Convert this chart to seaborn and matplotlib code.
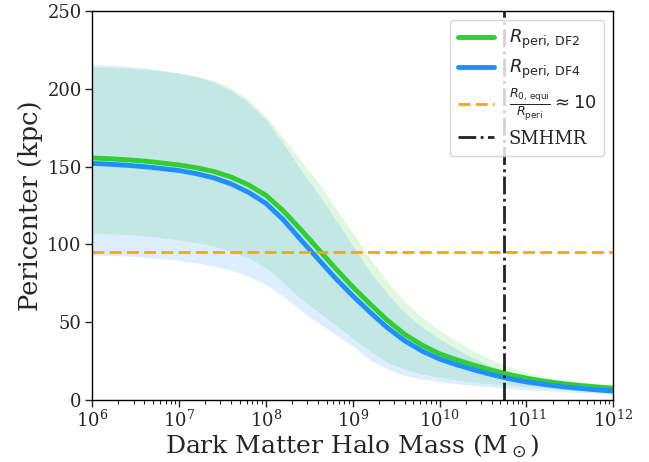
import numpy as np
import pandas as pd
import matplotlib
matplotlib.use("Agg")
import matplotlib.pyplot as plt
import seaborn as sns

# log10 halo mass grid (every 0.2 dex)
log_mass = [6.0, 6.2, 6.4, 6.6, 6.8, 7.0, 7.2, 7.4, 7.6, 7.8,
            8.0, 8.2, 8.4, 8.6, 8.8, 9.0, 9.2, 9.4, 9.6, 9.8,
            10.0, 10.2, 10.4, 10.6, 10.8, 11.0, 11.2, 11.4, 11.6, 11.8, 12.0]

r_df2 = [155.5, 155.0, 154.3, 153.5, 152.3, 151.0, 149.2, 146.8, 143.2, 138.2,
         131.5, 121.5, 109.5, 97.0, 84.5, 72.5, 61.5, 51.0, 42.0, 35.0,
         29.5, 25.6, 22.1, 19.0, 16.2, 13.8, 11.9, 10.4, 9.2, 8.2, 7.4]
r_df2_hi = [214.0, 213.8, 213.3, 212.5, 211.3, 210.0, 208.0, 205.3, 200.5, 193.0,
            182.0, 168.5, 154.0, 140.0, 123.5, 107.5, 90.5, 76.0, 63.0, 53.0,
            44.5, 37.5, 31.0, 25.5, 21.0, 17.5, 15.0, 13.0, 11.5, 10.3, 9.3]
r_df2_lo = [107.0, 106.7, 106.2, 105.4, 104.2, 102.8, 101.0, 98.8, 95.5, 91.0,
            85.0, 75.5, 65.0, 56.5, 48.0, 39.5, 31.0, 24.0, 19.5, 16.5,
            14.3, 12.7, 11.4, 10.3, 9.3, 8.4, 7.6, 6.9, 6.2, 5.6, 5.0]

r_df4 = [152.0, 151.5, 150.8, 149.9, 148.7, 147.4, 145.4, 142.7, 138.8, 133.4,
         126.3, 115.8, 103.0, 90.6, 78.2, 66.8, 56.2, 46.2, 37.8, 31.2,
         26.1, 22.4, 19.1, 16.1, 13.5, 11.4, 9.8, 8.4, 7.3, 6.3, 5.5]
r_df4_hi = [215.7, 215.2, 214.5, 213.5, 212.0, 210.2, 207.8, 204.5, 199.0, 191.0,
            180.0, 165.0, 148.0, 132.5, 116.0, 99.0, 82.0, 68.0, 56.0, 46.5,
            39.0, 32.5, 26.5, 21.5, 17.5, 14.5, 12.3, 10.7, 9.5, 8.6, 8.0]
r_df4_lo = [93.0, 92.8, 92.4, 91.7, 90.8, 89.6, 88.0, 86.0, 83.2, 79.3,
            74.0, 66.5, 57.5, 49.5, 42.0, 34.5, 25.5, 19.5, 15.5, 13.2,
            11.6, 10.3, 9.2, 8.2, 7.3, 6.5, 5.8, 5.1, 4.5, 4.0, 3.5]

ratio_line = 95.0
smhmr_mass = 5.5e10

mass = 10.0 ** np.array(log_mass)
df = pd.DataFrame({
    "mass": np.concatenate([mass, mass]),
    "r": r_df2 + r_df4,
    "model": ["DF2"] * len(mass) + ["DF4"] * len(mass),
})

sns.set_style("ticks")
plt.rcParams["font.family"] = ["DejaVu Serif"]
plt.rcParams["mathtext.fontset"] = "dejavusans"

green = "#32CD32"
blue = "#1E90FF"

fig = plt.figure(figsize=(6.49, 4.62), dpi=100)
ax = fig.add_axes([0.142, 0.135, 0.803, 0.841])

ax.fill_between(mass, r_df2_lo, r_df2_hi, color=green, alpha=0.15, lw=0)
ax.fill_between(mass, r_df4_lo, r_df4_hi, color=blue, alpha=0.15, lw=0)

sns.lineplot(data=df[df.model == "DF2"], x="mass", y="r", color=green, lw=3.5,
             ax=ax, label=r"$R_{\rm peri,\,DF2}$")
sns.lineplot(data=df[df.model == "DF4"], x="mass", y="r", color=blue, lw=3.5,
             ax=ax, label=r"$R_{\rm peri,\,DF4}$")

ax.axhline(ratio_line, color="#FFA500", ls=(0, (4.3, 1.9)), lw=2,
           label=r"$\frac{R_{\rm 0,\,equi}}{R_{\rm peri}}\approx 10$")
ax.axvline(smhmr_mass, color="#222222", ls="-.", lw=2, label="SMHMR")

ax.set_xscale("log")
ax.set_xlim(1e6, 1e12)
ax.set_ylim(0, 250)
ax.set_yticks([0, 50, 100, 150, 200, 250])
ax.tick_params(axis="both", which="major", labelsize=13, length=5, width=1,
               direction="out", pad=2.5)
ax.tick_params(axis="x", which="minor", length=3, width=0.8)

ax.set_xlabel(r"Dark Matter Halo Mass (M$_\odot$)", fontsize=18, labelpad=1)
ax.set_ylabel("Pericenter (kpc)", fontsize=18.5, labelpad=3)

for s in ax.spines.values():
    s.set_color("black")
    s.set_linewidth(1.0)

leg = ax.legend(loc="upper right", fontsize=13, handlelength=2.0,
                borderpad=0.45, labelspacing=0.35, framealpha=0.8)

fig.savefig("out.png", dpi=100)
